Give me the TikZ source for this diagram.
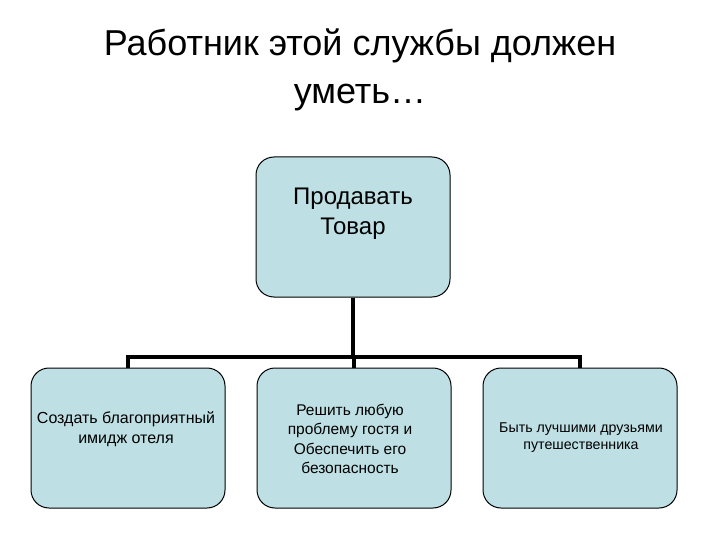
\documentclass[tikz,border=0pt]{standalone}
\usepackage{fontspec}
\setmainfont{Liberation Sans}
\definecolor{boxfill}{RGB}{190,224,228}
\begin{document}
\begin{tikzpicture}[x=1pt,y=-1pt,
  box/.style={draw=black, line width=1pt, fill=boxfill, rounded corners=18pt, minimum width=194pt, minimum height=140pt},
  txt/.style={align=center, inner sep=0pt},
  conn/.style={line width=3.5pt}]
\useasboundingbox (0,0) rectangle (720,540);
\node[align=center, font=\fontsize{36}{48}\selectfont] (title) at (360,70) {Работник этой службы должен\\уметь…};
\node[box] (top) at (353,227) {};
\node[txt, font=\fontsize{24}{30}\selectfont] (toptxt) at (353,214) {Продавать\\Товар};
\node[box] (b1) at (128,438) {};
\node[txt, font=\fontsize{16}{20}\selectfont] (b1txt) at (126,429) {Создать благоприятный\\имидж отеля};
\node[box] (b2) at (354,438) {};
\node[txt, font=\fontsize{15.5}{19.5}\selectfont] (b2txt) at (350,439) {Решить любую\\проблему гостя и\\Обеспечить его\\безопасность};
\node[box] (b3) at (580,438) {};
\node[txt, font=\fontsize{14.2}{17}\selectfont] (b3txt) at (581,438) {Быть лучшими друзьями\\путешественника};
\coordinate (bar) at (354,357);
\draw[conn] (top.south) -- (top.south |- bar);
\draw[conn] (b1.north) -- (b1.north |- bar) -- (b3.north |- bar) -- (b3.north);
\draw[conn] (b2.north |- bar) -- (b2.north);
\end{tikzpicture}
\end{document}
